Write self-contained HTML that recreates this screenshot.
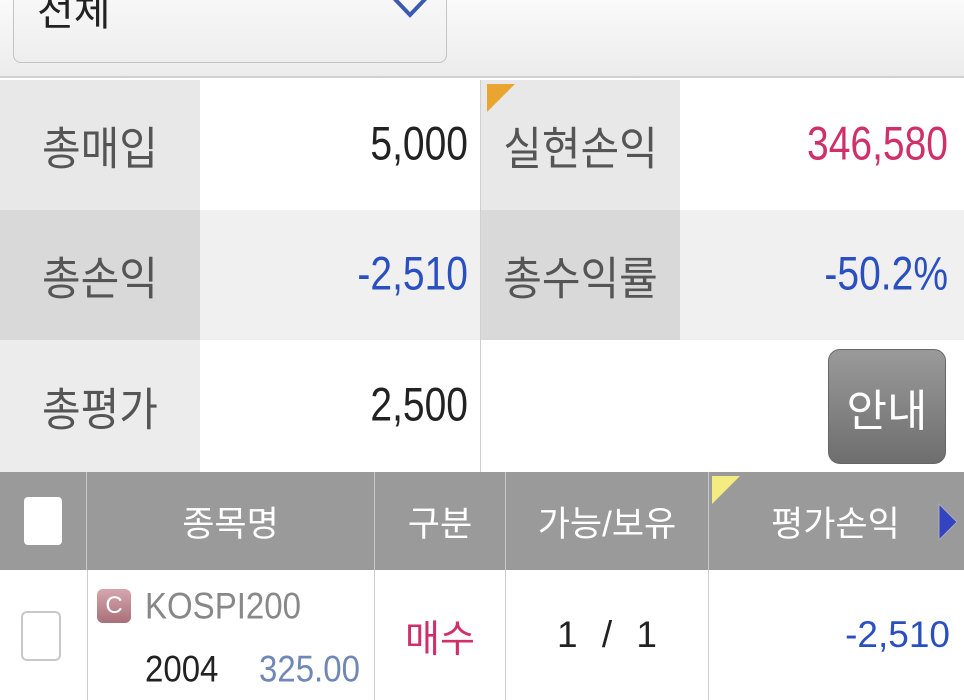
<!DOCTYPE html>
<html><head><meta charset="utf-8"><style>
*{margin:0;padding:0;box-sizing:border-box}
body{width:964px;height:700px;overflow:hidden;background:#fff;font-family:"Liberation Sans","Noto Sans CJK KR",sans-serif;position:relative}
.a{position:absolute}
.top{left:0;top:0;width:964px;height:78px;background:linear-gradient(#fafafa,#ececec);border-bottom:2px solid #d0d0d0}
.dd{left:13px;top:-20px;width:434px;height:83px;border:1px solid #c4c4c4;border-radius:8px;background:linear-gradient(#fafafa,#eeeeee)}
.cell{position:absolute;display:flex;align-items:center}
.lab{justify-content:center;font-size:42px;color:#555}
.lab span{display:inline-block;transform:scaleY(1.08)}
.val{justify-content:flex-end;padding-right:12px;font-size:39px;color:#222}
.val span{display:inline-block;transform:scaleY(1.2)}
.hd{position:absolute;top:472px;height:98px;background:#9a9a9a;color:#fff;font-size:35px;display:flex;align-items:center;justify-content:center;border-right:1px solid #c8c8c8}
</style></head><body>
<div class="a top"></div>
<div class="a dd">
 <span class="a" style="left:23px;top:-2px;font-size:40px;color:#222">전체</span>
 <svg class="a" style="left:374px;top:10px" width="44" height="28"><polyline points="3,4 22,24 41,4" fill="none" stroke="#3b5bb0" stroke-width="4"/></svg>
</div>

<div class="cell lab" style="left:0;top:80px;width:200px;height:130px;background:#e8e8e8"><span>총매입</span></div>
<div class="cell val" style="left:200px;top:80px;width:280px;height:130px;background:#fff"><span>5,000</span></div>
<div class="cell lab" style="left:481px;top:80px;width:199px;height:130px;background:#e8e8e8"><span>실현손익</span></div>
<svg class="a" style="left:487px;top:84px" width="30" height="30"><polygon points="0,0 28,0 0,28" fill="#e8a530"/></svg>
<div class="cell val" style="left:680px;top:80px;width:284px;height:130px;background:#fff;color:#d0306a;padding-right:16px"><span>346,580</span></div>

<div class="cell lab" style="left:0;top:210px;width:200px;height:130px;background:#d9d9d9"><span>총손익</span></div>
<div class="cell val" style="left:200px;top:210px;width:280px;height:130px;background:#f0f0f0;color:#2a4fc0"><span>-2,510</span></div>
<div class="cell lab" style="left:481px;top:210px;width:199px;height:130px;background:#d9d9d9"><span>총수익률</span></div>
<div class="cell val" style="left:680px;top:210px;width:284px;height:130px;background:#f0f0f0;color:#2a4fc0;padding-right:16px"><span>-50.2%</span></div>

<div class="cell lab" style="left:0;top:340px;width:200px;height:132px;background:#ececec"><span>총평가</span></div>
<div class="cell val" style="left:200px;top:340px;width:280px;height:132px;background:#fff"><span>2,500</span></div>
<div class="a" style="left:480px;top:80px;width:1px;height:392px;background:#cfcfcf"></div>
<div class="cell" style="left:828px;top:349px;width:118px;height:115px;border-radius:12px;background:linear-gradient(#9a9a9a,#6e6e6e);border:1px solid #666;color:#fff;font-size:44px;justify-content:center">안내</div>

<div class="hd" style="left:0;width:87px"><div style="width:38px;height:48px;background:#fff;border-radius:4px"></div></div>
<div class="hd" style="left:87px;width:288px">종목명</div>
<div class="hd" style="left:375px;width:131px">구분</div>
<div class="hd" style="left:506px;width:203px">가능/보유</div>
<div class="hd" style="left:709px;width:255px;border-right:none;justify-content:flex-start;padding-left:62px">평가손익</div>
<svg class="a" style="left:712px;top:476px" width="30" height="30"><polygon points="0,0 28,0 0,28" fill="#f4ec80"/></svg>
<svg class="a" style="left:937px;top:502px" width="22" height="40"><polygon points="2,2 20,20 2,38" fill="#3444c0" stroke="#aab" stroke-width="1"/></svg>

<div class="a" style="left:0;top:570px;width:964px;height:130px;background:#fff"></div>
<div class="a" style="left:87px;top:570px;width:1px;height:130px;background:#ccc"></div>
<div class="a" style="left:374px;top:570px;width:1px;height:130px;background:#ccc"></div>
<div class="a" style="left:505px;top:570px;width:1px;height:130px;background:#ccc"></div>
<div class="a" style="left:708px;top:570px;width:1px;height:130px;background:#ccc"></div>
<div class="a" style="left:21px;top:611px;width:40px;height:50px;border:2px solid #c8c8c8;border-radius:6px"></div>
<div class="cell" style="left:97px;top:589px;width:34px;height:34px;border-radius:6px;background:linear-gradient(#d6a6ae,#a87078);color:#fff;font-size:24px;justify-content:center">C</div>
<div class="a" style="left:145px;top:585px;font-size:33px;color:#888;transform:scaleY(1.12);transform-origin:left top">KOSPI200</div>
<div class="a" style="left:145px;top:648px;font-size:33px;color:#222;transform:scaleY(1.12);transform-origin:left top">2004</div>
<div class="a" style="left:259px;top:648px;font-size:33px;color:#7088b8;transform:scaleY(1.12);transform-origin:left top">325.00</div>
<div class="cell" style="left:375px;top:600px;width:130px;height:70px;justify-content:center;font-size:38px;color:#d0306a">매수</div>
<div class="cell" style="left:506px;top:600px;width:202px;height:70px;justify-content:center;font-size:37px;color:#222;word-spacing:14px">1 / 1</div>
<div class="cell" style="left:709px;top:600px;width:241px;height:70px;justify-content:flex-end;font-size:37px;color:#2a4fc0">-2,510</div>
</body></html>
